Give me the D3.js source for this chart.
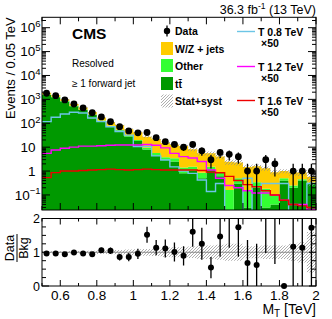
<!DOCTYPE html>
<html>
<head>
<meta charset="utf-8">
<script src="https://cdn.jsdelivr.net/npm/d3@7"></script>
<style>
  body { margin: 0; background: #fff; }
  text { font-family: 'Liberation Sans', Arial, sans-serif; fill: #000; }
</style>
</head>
<body>
<svg id="chart" width="332" height="319"></svg>
<script>
// M_T bins, 0.05 TeV wide
const binEdges = d3.range(31).map(i => +(0.5 + i * 0.05).toFixed(2))

const dataCounts = [1800, 1430, 945, 640, 437, 276, 184, 117, 72, 48, 40, 41, 25, 17, 13,
  10, 13, 7, 3, 6, 5, 4, 1, 1, 3, 2, 0, 1, 1, 1]

const ttbar = [1550, 1230, 820, 520, 360, 225, 125, 75, 50, 28, 18, 8, 4.5, 3, 2.5,
  0.8, 1.0, 0.5, 1.2, 0.6, 0.01, 0.3, 0.03, 0.2, 0.03, 0.04, 0.4, 0.2, 0.4, 0.3]
const other = [60, 50, 35, 22, 16, 10, 7, 4.5, 3.5, 3, 2, 1.5, 1.2, 0.8, 0.9,
  0.6, 0.5, 0.35, 0.3, 0.3, 0.15, 0.2, 0.12, 0.14, 0.15, 0.05, 0.1, 0.05, 0.05, 0.03]
const wjets = [265, 210, 150, 104, 79, 59, 42, 32.5, 30.5, 25, 22, 17.5, 16.3, 11.5, 9.5,
  9.8, 6.6, 4.75, 4.0, 3.2, 2.28, 1.8, 1.32, 1.26, 1.12, 0.81, 0.5, 0.61, 0.43, 0.25]
const relUnc = [0.03, 0.03, 0.03, 0.035, 0.04, 0.045, 0.05, 0.06, 0.07, 0.08, 0.09, 0.1, 0.11, 0.14, 0.15,
  0.15, 0.17, 0.2, 0.2, 0.22, 0.25, 0.25, 0.18, 0.18, 0.2, 0.2, 0.2, 0.25, 0.3, 0.6]

// signals, already scaled x50
const sigT08 = [117, 178, 244, 290, 270, 165, 117, 72, 45, 32, 10.6, 10.6, 4.3, 2.9, 1.5,
  1.0, 0.8, 0.42, 0.14, 0.3, 0, 0, 0.5, 0, 0.3, 0.3, 0.3, 0, 0, 0.3]
const sigT12 = [5.5, 7.6, 9, 10, 11, 11, 11.5, 12, 12.4, 12.4, 12.4, 13, 12, 9.3, 5.5,
  4, 3.5, 2.5, 1.1, 0.5, 0.25, 0.2, 0.15, 0.12, 0.12, 0.1, 0.06, 0.04, 0.04, 0.025]
const sigT16 = [0.53, 0.86, 1.0, 1.0, 1.05, 1.1, 1.15, 1.2, 1.15, 1.1, 1.15, 1.2, 1.15, 1.1, 1.1,
  1.1, 1.1, 1.05, 0.9, 0.85, 0.6, 0.4, 0.27, 0.22, 0.15, 0.1, 0.06, 0.04, 0.035, 0.03]

const xTicks = [0.6, 0.8, 1, 1.2, 1.4, 1.6, 1.8, 2]
const yPowers = [-1, 0, 1, 2, 3, 4, 5, 6]
const ratioTicks = [0, 1, 2]

const colors = { wz: '#ffcc00', other: '#33ff33', tt: '#009900' }
const sigColors = ['#6cc5e6', '#ff00ff', '#ee0000']

const svg = d3.select('#chart')
const left = 42
const right = 316
const mainTop = 17.3
const mainBottom = 210
const ratioTop = 218.5
const ratioBottom = 286

const x = d3.scaleLinear().domain([0.5, 2]).range([left, right])
const yMin = Math.pow(10, -1.63)
const y = d3.scaleLog().domain([yMin, Math.pow(10, 6.435)]).range([mainBottom, mainTop])
const yr = d3.scaleLinear().domain([0, 2]).range([ratioBottom, ratioTop])

const defs = svg.append('defs')
defs.append('clipPath').attr('id', 'clipMain')
  .append('rect').attr('x', left).attr('y', mainTop)
  .attr('width', right - left).attr('height', mainBottom - mainTop)
defs.append('clipPath').attr('id', 'clipRatio')
  .append('rect').attr('x', left).attr('y', ratioTop)
  .attr('width', right - left).attr('height', ratioBottom - ratioTop)
const hatch = defs.append('pattern').attr('id', 'hatch')
  .attr('patternUnits', 'userSpaceOnUse').attr('width', 3).attr('height', 3)
hatch.append('path').attr('d', 'M-1,1 l2,-2 M0,3 l3,-3 M2,4 l2,-2')
  .attr('stroke', '#8c8c8c').attr('stroke-width', 0.7)

const total = ttbar.map((d, i) => d + other[i] + wjets[i])
const pad = arr => arr.concat([arr[arr.length - 1]])
const clampY = v => y(Math.max(v, yMin * 0.5))

// stacked backgrounds
const rows = ttbar.map((d, i) => ({ tt: d, other: other[i], wz: wjets[i] }))
const series = d3.stack().keys(['tt', 'other', 'wz'])(rows)
const stepArea = d3.area()
  .curve(d3.curveStepAfter)
  .x((d, i) => x(binEdges[i]))
  .y0(d => clampY(d[0]))
  .y1(d => clampY(d[1]))

const main = svg.append('g').attr('clip-path', 'url(#clipMain)')
main.selectAll('.stack')
  .data(series)
  .enter()
  .append('path')
  .attr('class', 'stack')
  .attr('d', s => stepArea(pad(s.map(d => [d[0], d[1]]))))
  .attr('fill', s => colors[s.key])

// stat+syst band on top of the stack
const band = total.map((t, i) => [t * (1 - relUnc[i]), t * (1 + relUnc[i])])
main.append('path')
  .attr('d', stepArea(pad(band)))
  .attr('fill', 'url(#hatch)')

// signal lines
const stepLine = d3.line()
  .curve(d3.curveStepAfter)
  .x((d, i) => x(binEdges[i]))
  .y(d => clampY(d))
main.selectAll('.sig')
  .data([sigT08, sigT12, sigT16])
  .enter()
  .append('path')
  .attr('class', 'sig')
  .attr('d', d => stepLine(pad(d)))
  .attr('fill', 'none')
  .attr('stroke', (d, i) => sigColors[i])
  .attr('stroke-width', 1.4)

// data with sqrt(N) errors
const binCenters = binEdges.slice(0, 30).map(e => e + 0.025)
const pts = dataCounts.map((n, i) => ({ xc: binCenters[i], n, bkg: total[i], e: Math.sqrt(n) }))
main.selectAll('.err')
  .data(pts.filter(d => d.n > 0))
  .enter()
  .append('line')
  .attr('x1', d => x(d.xc)).attr('x2', d => x(d.xc))
  .attr('y1', d => clampY(d.n - d.e)).attr('y2', d => clampY(d.n + d.e))
  .attr('stroke', '#000').attr('stroke-width', 1.3)
main.selectAll('.pt')
  .data(pts.filter(d => d.n > 0))
  .enter()
  .append('circle')
  .attr('cx', d => x(d.xc)).attr('cy', d => y(d.n)).attr('r', 3.4)
  .attr('fill', '#000')

// ratio panel
const ratio = svg.append('g').attr('clip-path', 'url(#clipRatio)')
const ratioBand = relUnc.map(r => [1 - r, 1 + r])
ratio.append('path')
  .attr('d', d3.area().curve(d3.curveStepAfter)
    .x((d, i) => x(binEdges[i])).y0(d => yr(d[0])).y1(d => yr(d[1]))(pad(ratioBand)))
  .attr('fill', 'url(#hatch)')
ratio.append('line')
  .attr('x1', left).attr('x2', right).attr('y1', yr(1)).attr('y2', yr(1))
  .attr('stroke', '#8a8a8a').attr('stroke-width', 1)
ratio.selectAll('.rerr')
  .data(pts.filter(d => d.n > 0))
  .enter()
  .append('line')
  .attr('x1', d => x(d.xc)).attr('x2', d => x(d.xc))
  .attr('y1', d => yr(Math.max(0, (d.n - d.e) / d.bkg)))
  .attr('y2', d => yr((d.n + d.e) / d.bkg))
  .attr('stroke', '#000').attr('stroke-width', 1.3)
svg.selectAll('.rpt')
  .data(pts.filter(d => d.n / d.bkg <= 2))
  .enter()
  .append('circle')
  .attr('cx', d => x(d.xc)).attr('cy', d => yr(d.n / d.bkg)).attr('r', 3)
  .attr('fill', '#000')

// frames and ticks
function frame(top, bottom) {
  svg.append('rect')
    .attr('x', left).attr('y', top)
    .attr('width', right - left).attr('height', bottom - top)
    .attr('fill', 'none').attr('stroke', '#000').attr('stroke-width', 1)
}
frame(mainTop, mainBottom)
frame(ratioTop, ratioBottom)

const ticks = svg.append('g').attr('stroke', '#000').attr('stroke-width', 1)
function xTickMarks(top, bottom, major, minor) {
  d3.range(0.5, 2.001, 0.1).forEach(v => {
    const isMajor = Math.abs((v * 10) % 2) < 0.01
    const len = isMajor ? major : minor
    const px = x(v)
    ticks.append('line').attr('x1', px).attr('x2', px).attr('y1', bottom).attr('y2', bottom - len)
    ticks.append('line').attr('x1', px).attr('x2', px).attr('y1', top).attr('y2', top + len)
  })
}
xTickMarks(mainTop, mainBottom, 7, 4)
xTickMarks(ratioTop, ratioBottom, 6, 3)

// log ticks on main y
d3.range(-2, 7).forEach(p => {
  d3.range(1, 10).forEach(m => {
    const v = m * Math.pow(10, p)
    if (v < yMin || v > y.domain()[1]) return
    const len = m === 1 ? 8 : 4
    const py = y(v)
    ticks.append('line').attr('x1', left).attr('x2', left + len).attr('y1', py).attr('y2', py)
    ticks.append('line').attr('x1', right).attr('x2', right - len).attr('y1', py).attr('y2', py)
  })
})
// ratio y ticks
d3.range(0, 2.001, 0.25).forEach(v => {
  const len = Math.abs(v - Math.round(v)) < 0.01 ? 7 : 4
  const py = yr(v)
  ticks.append('line').attr('x1', left).attr('x2', left + len).attr('y1', py).attr('y2', py)
  ticks.append('line').attr('x1', right).attr('x2', right - len).attr('y1', py).attr('y2', py)
})

// tick labels
svg.selectAll('.xlab')
  .data(xTicks)
  .enter()
  .append('text')
  .attr('x', d => x(d)).attr('y', 299.5)
  .attr('text-anchor', 'middle')
  .style('font-size', '13.5px')
  .text(d => d)

yPowers.forEach(p => {
  const t = svg.append('text').attr('y', y(Math.pow(10, p)) + 4.8).style('font-size', '13.5px')
  if (p === 0 || p === 1) {
    t.attr('x', 35.5).attr('text-anchor', 'end').text(p === 0 ? '1' : '10')
  } else {
    t.attr('x', 40.5).attr('text-anchor', 'end')
    t.append('tspan').text('10')
    t.append('tspan').attr('dy', -5.5).style('font-size', '9.5px').text(p < 0 ? '\u2212' + (-p) : p)
  }
})
svg.selectAll('.rlab')
  .data(ratioTicks)
  .enter()
  .append('text')
  .attr('x', 40).attr('y', d => yr(d) + 4.5)
  .attr('text-anchor', 'end')
  .style('font-size', '12.5px')
  .text(d => d)

// axis titles
svg.append('text')
  .attr('transform', `translate(15,${mainTop}) rotate(-90)`)
  .attr('text-anchor', 'end')
  .style('font-size', '13px')
  .text('Events / 0.05 TeV')

const rt = svg.append('g').attr('transform', 'translate(17,248) rotate(-90)')
rt.append('text').attr('y', -3).attr('text-anchor', 'middle').style('font-size', '12.5px').text('Data')
rt.append('line').attr('x1', -14).attr('x2', 14).attr('y1', 0).attr('y2', 0)
  .attr('stroke', '#000').attr('stroke-width', 1)
rt.append('text').attr('y', 11).attr('text-anchor', 'middle').style('font-size', '12.5px').text('Bkg')

const xt = svg.append('text')
  .attr('x', right).attr('y', 314)
  .attr('text-anchor', 'end')
  .style('font-size', '14px')
xt.append('tspan').text('M')
xt.append('tspan').attr('dy', 3).style('font-size', '10px').text('T')
xt.append('tspan').attr('dy', -3).text(' [TeV]')

// header
const lumi = svg.append('text')
  .attr('x', right).attr('y', 14)
  .attr('text-anchor', 'end')
  .style('font-size', '12.5px')
lumi.append('tspan').text('36.3 fb')
lumi.append('tspan').attr('dy', -5).style('font-size', '8.5px').text('-1')
lumi.append('tspan').attr('dy', 5).text(' (13 TeV)')

svg.append('text').attr('x', 72).attr('y', 38.5)
  .style('font-size', '15.5px').style('font-weight', 'bold').text('CMS')
svg.append('text').attr('x', 72).attr('y', 67).style('font-size', '10px').text('Resolved')
svg.append('text').attr('x', 72).attr('y', 87).style('font-size', '10px').text('\u2265 1 forward jet')

// legend, left column
const legFont = '10.5px'
const legend = svg.append('g')
legend.append('line').attr('x1', 167).attr('x2', 167).attr('y1', 25.5).attr('y2', 36.5)
  .attr('stroke', '#000').attr('stroke-width', 1.3)
legend.append('circle').attr('cx', 167).attr('cy', 31).attr('r', 3.2).attr('fill', '#000')
const boxes = [
  { label: 'W/Z + jets', fill: colors.wz, cy: 48.5 },
  { label: 'Other', fill: colors.other, cy: 65.5 },
  { label: 'tt\u0304', fill: colors.tt, cy: 83.5 },
  { label: 'Stat+syst', fill: 'url(#hatch)', cy: 101 }
]
legend.selectAll('.box')
  .data(boxes)
  .enter()
  .append('rect')
  .attr('x', 161).attr('y', d => d.cy - 6.5)
  .attr('width', 12).attr('height', 13)
  .attr('fill', d => d.fill)
const legTexts = [{ label: 'Data', cy: 31 }].concat(boxes)
legend.selectAll('.ltext')
  .data(legTexts)
  .enter()
  .append('text')
  .attr('x', 175).attr('y', d => d.cy + 4)
  .style('font-size', legFont).style('font-weight', 'bold')
  .text(d => d.label)

// legend, signals
const sigLegend = [
  { label: 'T 0.8 TeV', cy: 31.5 },
  { label: 'T 1.2 TeV', cy: 66.5 },
  { label: 'T 1.6 TeV', cy: 100.5 }
]
sigLegend.forEach((d, i) => {
  legend.append('line').attr('x1', 237).attr('x2', 255).attr('y1', d.cy).attr('y2', d.cy)
    .attr('stroke', sigColors[i]).attr('stroke-width', 1.4)
  legend.append('text').attr('x', 258).attr('y', d.cy + 4)
    .style('font-size', legFont).style('font-weight', 'bold').text(d.label)
  legend.append('text').attr('x', 261).attr('y', d.cy + 15.5)
    .style('font-size', legFont).style('font-weight', 'bold').text('\u00d750')
})
</script>
</body>
</html>
